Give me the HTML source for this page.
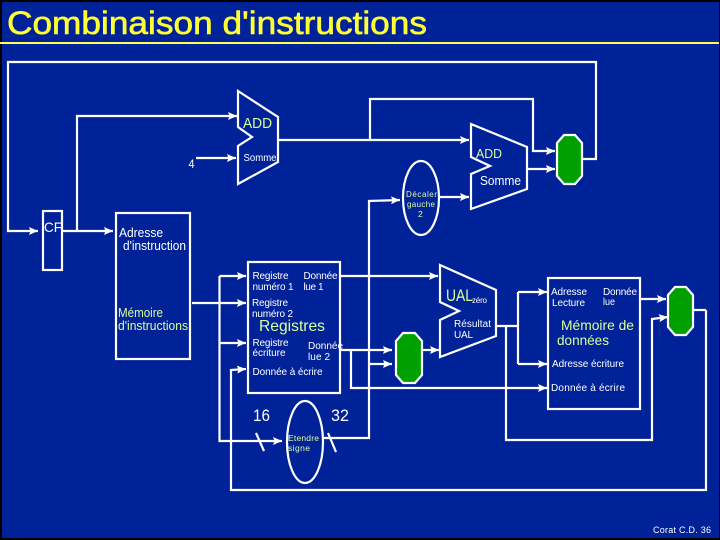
<!DOCTYPE html>
<html><head><meta charset="utf-8"><style>
html,body{margin:0;padding:0;background:#000}
svg{display:block;font-family:"Liberation Sans",sans-serif}
text{fill:#fff;font-size:10px}
.y{fill:#d8ff9c}
</style></head><body>
<svg width="720" height="540" viewBox="0 0 720 540" xmlns="http://www.w3.org/2000/svg">
<defs><marker id="a" markerUnits="userSpaceOnUse" markerWidth="10" markerHeight="10" refX="9" refY="5" orient="auto"><path d="M0 1L9 5L0 9L1.500 5z" fill="#fff"/></marker></defs>
<rect x="0" y="0" width="720" height="540" fill="#000"/>
<rect x="2" y="2" width="717" height="536" fill="#002299"/>
<text x="7" y="34" textLength="420" lengthAdjust="spacingAndGlyphs" style="font-size:32px;fill:#ffff33;stroke:#ffff33;stroke-width:.6">Combinaison d'instructions</text>
<rect x="0" y="42" width="719" height="2" fill="#ffff55"/>
<g fill="none" stroke="#fff" stroke-width="2.200">
<polygon points="238,91 278,117 278,162 238,184 238,146 252,137 238,127"/>
<polygon points="471,124 527,147 527,189 471,209 471,174 490,166 471,157"/>
<polygon points="440,265 496,290 496,336 440,357 440,320 459,311 440,302"/>
<rect x="43" y="211" width="19" height="59"/>
<rect x="116" y="213" width="74" height="146"/>
<rect x="248" y="262" width="92" height="131"/>
<rect x="548" y="278" width="92" height="131"/>
<ellipse cx="421" cy="198" rx="18" ry="37"/>
<ellipse cx="305" cy="442" rx="18" ry="41"/>
<polyline points="582,159 596,159 596,62 8,62 8,231 38,231" marker-end="url(#a)"/>
<polyline points="62,231 113,231" marker-end="url(#a)"/>
<polyline points="77,231 77,116 237,116" marker-end="url(#a)"/>
<polyline points="196,158 236,158" marker-end="url(#a)"/>
<polyline points="278,140 469,140" marker-end="url(#a)"/>
<polyline points="370,140 370,99 533,99 533,151 555,151" marker-end="url(#a)"/>
<polyline points="527,169 555,169" marker-end="url(#a)"/>
<polyline points="440,197 469,197" marker-end="url(#a)"/>
<polyline points="323,438 369,438 369,201 400,200" marker-end="url(#a)"/>
<polyline points="369,364 392,364" marker-end="url(#a)"/>
<polyline points="192,303 246,303" marker-end="url(#a)"/>
<polyline points="219.500,276 246,276" marker-end="url(#a)"/>
<polyline points="219.500,343 246,343" marker-end="url(#a)"/>
<polyline points="219.500,276 219.500,441 282,441" marker-end="url(#a)"/>
<polyline points="706,310 706,490 231,490 231,370 246,369" marker-end="url(#a)"/>
<polyline points="694,310 706,310"/>
<polyline points="340,276 438,276" marker-end="url(#a)"/>
<polyline points="340,350 392,350" marker-end="url(#a)"/>
<polyline points="351,350 351,388 547,388" marker-end="url(#a)"/>
<polyline points="423,350 439,350" marker-end="url(#a)"/>
<polyline points="496,326 519,326"/>
<polyline points="506,326 506,440 652,440 652,319 668,317" marker-end="url(#a)"/>
<polyline points="518,292 518,364"/>
<polyline points="518,292 547,292" marker-end="url(#a)"/>
<polyline points="518,364 547,364" marker-end="url(#a)"/>
<polyline points="641,299 666,299" marker-end="url(#a)"/>
<line x1="256" y1="433" x2="264" y2="451"/>
<line x1="328" y1="433" x2="336" y2="452"/>
<g fill="#00a000">
<polygon points="564,135 575,135 582,143 582,176 575,184 564,184 557,176 557,143"/>
<polygon points="403,333 415,333 422,341 422,375 415,383 403,383 396,375 396,341"/>
<polygon points="675,287 686,287 693,295 693,327 686,335 675,335 668,327 668,295"/>
</g>
</g>
<g lengthAdjust="spacingAndGlyphs">
<text class="y" x="243" y="128" textLength="29" lengthAdjust="spacingAndGlyphs" style="font-size:15px">ADD</text>
<text x="243.500" y="161" textLength="33" lengthAdjust="spacingAndGlyphs" style="font-size:10px">Somme</text>
<text x="188.500" y="168" style="font-size:12px" textLength="6" lengthAdjust="spacingAndGlyphs">4</text>
<text class="y" x="476" y="158" textLength="26" lengthAdjust="spacingAndGlyphs" style="font-size:13px">ADD</text>
<text x="480" y="185" textLength="41" lengthAdjust="spacingAndGlyphs" style="font-size:12.500px">Somme</text>
<text class="y" x="406" y="197" textLength="31" style="font-size:8px">Décaler</text>
<text class="y" x="407" y="207" textLength="28" style="font-size:8px">gauche</text>
<text class="y" x="418" y="217" style="font-size:8.500px">2</text>
<text x="44" y="232" textLength="18" lengthAdjust="spacingAndGlyphs" style="font-size:14px">CF</text>
<text x="119" y="237" textLength="44" lengthAdjust="spacingAndGlyphs" style="font-size:12.500px">Adresse</text>
<text x="123" y="250" textLength="63" lengthAdjust="spacingAndGlyphs" style="font-size:12.500px">d'instruction</text>
<text class="y" x="118" y="317" textLength="45" lengthAdjust="spacingAndGlyphs" style="font-size:12.500px">Mémoire</text>
<text class="y" x="118" y="330" textLength="70" lengthAdjust="spacingAndGlyphs" style="font-size:12.500px">d'instructions</text>
<text x="252.500" y="279" textLength="36">Registre</text>
<text x="252.500" y="290" textLength="41">numéro 1</text>
<text x="303.500" y="279" textLength="34">Donnée</text>
<text x="303.500" y="290" textLength="20">lue 1</text>
<text x="252" y="306" textLength="36">Registre</text>
<text x="252" y="317" textLength="41">numéro 2</text>
<text class="y" x="259" y="331" textLength="66" lengthAdjust="spacingAndGlyphs" style="font-size:16px">Registres</text>
<text x="252.500" y="346" textLength="36">Registre</text>
<text x="252.500" y="356" textLength="33">écriture</text>
<text x="308" y="349" textLength="35">Donnée</text>
<text x="308" y="360" textLength="22">lue 2</text>
<text x="252.500" y="375" textLength="70">Donnée à écrire</text>
<text x="253" y="421" textLength="17" lengthAdjust="spacingAndGlyphs" style="font-size:17px">16</text>
<text x="331" y="421" textLength="18" lengthAdjust="spacingAndGlyphs" style="font-size:17px">32</text>
<text class="y" x="288" y="441" textLength="31" style="font-size:8.500px">Etendre</text>
<text class="y" x="288" y="451" textLength="22" style="font-size:8.500px">signe</text>
<text class="y" x="446" y="301" textLength="27" lengthAdjust="spacingAndGlyphs" style="font-size:17px">UAL</text>
<text x="472" y="303" textLength="15" style="font-size:8px">zéro</text>
<text x="454" y="327" textLength="37">Résultat</text>
<text x="454" y="338" textLength="19">UAL</text>
<text x="551" y="295" textLength="36">Adresse</text>
<text x="552" y="306" textLength="33">Lecture</text>
<text x="603" y="295" textLength="34">Donnée</text>
<text x="603" y="305" textLength="12" lengthAdjust="spacingAndGlyphs">lue</text>
<text class="y" x="561" y="330" textLength="73" lengthAdjust="spacingAndGlyphs" style="font-size:14px">Mémoire de</text>
<text class="y" x="557" y="345" textLength="52" lengthAdjust="spacingAndGlyphs" style="font-size:14px">données</text>
<text x="552" y="367" textLength="72">Adresse écriture</text>
<text x="551" y="391" textLength="74">Donnée à écrire</text>
<text x="653" y="533" textLength="58" style="font-size:9px">Corat C.D. 36</text>
</g>
</svg>
</body></html>
